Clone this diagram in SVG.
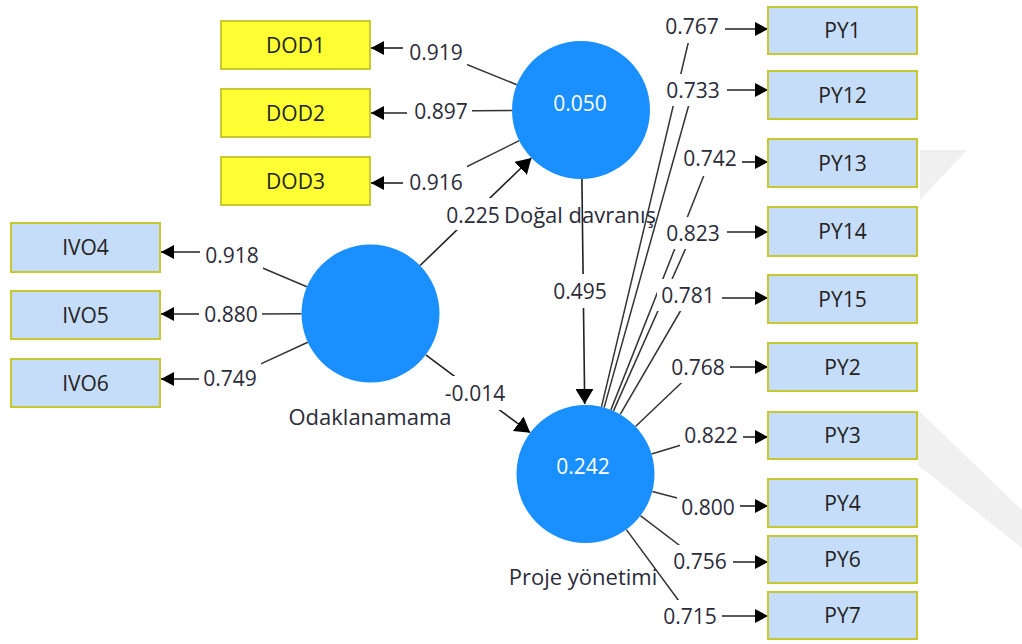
<svg xmlns="http://www.w3.org/2000/svg" width="1022" height="644" viewBox="0 0 1022 644">
<defs>
<style>
.bgw{fill:#ffffff}
.ln{stroke:#333333;stroke-width:1.5;fill:none}
.la{stroke:#222222;stroke-width:1.6;fill:none;marker-end:url(#ah)}
.sa{stroke:#222222;stroke-width:1.6;fill:none;marker-end:url(#ahs)}
.lv{fill:#1a8fff}
.yb{fill:#ffff33;stroke:#c8c832;stroke-width:2}
.bb{fill:#c6ddf9;stroke:#c8c832;stroke-width:2}
.num{font-family:"Open Sans","Noto Sans",sans-serif;font-size:21px;fill:#2b2b3a;text-anchor:middle}
.bt{font-family:"Open Sans","Noto Sans",sans-serif;font-size:21px;fill:#222222;text-anchor:middle}
.ct{font-family:"Open Sans","Noto Sans",sans-serif;font-size:21px;fill:#ffffff;text-anchor:middle}
.nm{font-family:"Open Sans","Noto Sans",sans-serif;font-size:22px;fill:#2b2b3a;text-anchor:middle}
.wm{fill:#f0f0f0}
</style>
<marker id="ah" markerUnits="userSpaceOnUse" markerWidth="13" markerHeight="14" refX="13" refY="7" orient="auto"><path d="M0,0 L13,7 L0,14 z" fill="#000"/></marker>
<marker id="ahs" markerUnits="userSpaceOnUse" markerWidth="15" markerHeight="18" refX="15" refY="9" orient="auto"><path d="M0,0 L15,9 L0,18 z" fill="#000"/></marker>
</defs>
<rect x="0" y="0" width="1022" height="644" fill="#ffffff"/>
<g id="watermark">
<polygon class="wm" points="920,150 967,150 920,200"/>
<polygon class="wm" points="918,410 1022,510 1022,548 918,465"/>
</g>
<g id="connectors">
<!-- loading lines (circle to label) -->
<line class="ln" x1="516.8" y1="84.7" x2="436" y2="52"/>
<line class="ln" x1="512" y1="110.5" x2="441" y2="111"/>
<line class="ln" x1="519.2" y1="140.7" x2="436" y2="182"/>
<line class="ln" x1="306.9" y1="286.7" x2="232" y2="255"/>
<line class="ln" x1="301.5" y1="313.7" x2="231" y2="314"/>
<line class="ln" x1="307.8" y1="342.3" x2="230" y2="378"/>
<line class="ln" x1="601.5" y1="406.9" x2="692" y2="27"/>
<line class="ln" x1="604.1" y1="407.6" x2="693" y2="90"/>
<line class="ln" x1="610.9" y1="409.9" x2="710" y2="160"/>
<line class="ln" x1="613.5" y1="410.9" x2="693" y2="232"/>
<line class="ln" x1="620.2" y1="414.4" x2="688" y2="298"/>
<line class="ln" x1="635.5" y1="426.5" x2="698" y2="367"/>
<line class="ln" x1="651.5" y1="454" x2="711" y2="436"/>
<line class="ln" x1="652.3" y1="491.4" x2="708" y2="506"/>
<line class="ln" x1="640.4" y1="515.7" x2="700" y2="561"/>
<line class="ln" x1="626.4" y1="529.6" x2="690" y2="616"/>
<!-- structural paths -->
<line class="sa" x1="420.1" y1="265.5" x2="531.4" y2="158"/>
<line class="sa" x1="581.9" y1="179" x2="584.7" y2="404"/>
<line class="sa" x1="425.8" y1="354.8" x2="530.2" y2="432.7"/>
<!-- label backgrounds -->
<rect class="bgw" x="405" y="36" width="62" height="32"/>
<rect class="bgw" x="410" y="95" width="62" height="32"/>
<rect class="bgw" x="405" y="166" width="62" height="32"/>
<rect class="bgw" x="201" y="239" width="62" height="32"/>
<rect class="bgw" x="200" y="298" width="62" height="32"/>
<rect class="bgw" x="199" y="362" width="62" height="32"/>
<rect class="bgw" x="442" y="198" width="62" height="32"/>
<rect class="bgw" x="549" y="274" width="62" height="34"/>
<rect class="bgw" x="441" y="376" width="68" height="34"/>
<rect class="bgw" x="661" y="11" width="62" height="32"/>
<rect class="bgw" x="662" y="74" width="62" height="32"/>
<rect class="bgw" x="679" y="144" width="62" height="32"/>
<rect class="bgw" x="662" y="217" width="62" height="32"/>
<rect class="bgw" x="657" y="279" width="62" height="32"/>
<rect class="bgw" x="667" y="351" width="62" height="32"/>
<rect class="bgw" x="680" y="419" width="62" height="32"/>
<rect class="bgw" x="677" y="491" width="62" height="32"/>
<rect class="bgw" x="669" y="545" width="62" height="32"/>
<rect class="bgw" x="659" y="600" width="62" height="32"/>
<!-- label to indicator arrows -->
<line class="la" x1="403" y1="48" x2="371" y2="48"/>
<line class="la" x1="407" y1="113" x2="371" y2="113"/>
<line class="la" x1="403" y1="183" x2="371" y2="183"/>
<line class="la" x1="200" y1="252" x2="161" y2="252"/>
<line class="la" x1="199" y1="314" x2="161" y2="314"/>
<line class="la" x1="199" y1="379" x2="161" y2="379"/>
<line class="la" x1="725" y1="29" x2="768" y2="29"/>
<line class="la" x1="727" y1="90" x2="768" y2="90"/>
<line class="la" x1="742" y1="162" x2="768" y2="162"/>
<line class="la" x1="727" y1="232" x2="768" y2="232"/>
<line class="la" x1="722" y1="298" x2="768" y2="298"/>
<line class="la" x1="730" y1="367" x2="768" y2="367"/>
<line class="la" x1="743" y1="437" x2="768" y2="437"/>
<line class="la" x1="740" y1="506" x2="768" y2="506"/>
<line class="la" x1="733" y1="562" x2="768" y2="562"/>
<line class="la" x1="722" y1="616" x2="768" y2="616"/>
<!-- labels -->
<text class="num" x="436" y="59.5">0.919</text>
<text class="num" x="441" y="118.5">0.897</text>
<text class="num" x="436" y="189.5">0.916</text>
<text class="num" x="232" y="262.5">0.918</text>
<text class="num" x="231" y="321.5">0.880</text>
<text class="num" x="230" y="385.5">0.749</text>
<text class="num" x="473" y="222.5">0.225</text>
<text class="num" x="580" y="299">0.495</text>
<text class="num" x="475" y="401">-0.014</text>
<text class="num" x="692" y="34">0.767</text>
<text class="num" x="693" y="97.5">0.733</text>
<text class="num" x="710" y="166">0.742</text>
<text class="num" x="693" y="241">0.823</text>
<text class="num" x="688" y="302.5">0.781</text>
<text class="num" x="698" y="375">0.768</text>
<text class="num" x="711" y="442.5">0.822</text>
<text class="num" x="708" y="514.5">0.800</text>
<text class="num" x="700" y="569">0.756</text>
<text class="num" x="690" y="623.5">0.715</text>
</g>
<g id="DOD1"><rect class="yb" x="221" y="21" width="149" height="48"/><text class="bt" x="295.5" y="53">DOD1</text></g>
<g id="DOD2"><rect class="yb" x="221" y="89" width="149" height="48"/><text class="bt" x="295.5" y="121">DOD2</text></g>
<g id="DOD3"><rect class="yb" x="221" y="157" width="149" height="48"/><text class="bt" x="295.5" y="189">DOD3</text></g>
<g id="IVO4"><rect class="bb" x="11" y="223" width="149" height="49"/><text class="bt" x="85.5" y="255">IVO4</text></g>
<g id="IVO5"><rect class="bb" x="11" y="291" width="149" height="48"/><text class="bt" x="85.5" y="323">IVO5</text></g>
<g id="IVO6"><rect class="bb" x="11" y="359" width="149" height="48"/><text class="bt" x="85.5" y="391">IVO6</text></g>
<g id="PY1"><rect class="bb" x="768" y="7" width="149" height="47"/><text class="bt" x="842.5" y="38">PY1</text></g>
<g id="PY12"><rect class="bb" x="768" y="71" width="149" height="48"/><text class="bt" x="842.5" y="103">PY12</text></g>
<g id="PY13"><rect class="bb" x="768" y="139" width="149" height="48"/><text class="bt" x="842.5" y="171">PY13</text></g>
<g id="PY14"><rect class="bb" x="768" y="207" width="149" height="49"/><text class="bt" x="842.5" y="239">PY14</text></g>
<g id="PY15"><rect class="bb" x="768" y="275" width="149" height="48"/><text class="bt" x="842.5" y="307">PY15</text></g>
<g id="PY2"><rect class="bb" x="768" y="343" width="149" height="48"/><text class="bt" x="842.5" y="375">PY2</text></g>
<g id="PY3"><rect class="bb" x="768" y="412" width="149" height="47"/><text class="bt" x="842.5" y="443">PY3</text></g>
<g id="PY4"><rect class="bb" x="768" y="479" width="149" height="48"/><text class="bt" x="842.5" y="511">PY4</text></g>
<g id="PY6"><rect class="bb" x="768" y="536" width="149" height="47"/><text class="bt" x="842.5" y="567">PY6</text></g>
<g id="PY7"><rect class="bb" x="768" y="592" width="149" height="47"/><text class="bt" x="842.5" y="623">PY7</text></g>
<g id="Dogal_davranis"><circle class="lv" cx="581" cy="110" r="69"/><text class="ct" x="580" y="111">0.050</text><text class="nm" x="580" y="223">Doğal davranış</text></g>
<g id="Odaklanamama"><circle class="lv" cx="370.5" cy="313.5" r="69"/><text class="nm" x="370" y="425">Odaklanamama</text></g>
<g id="Proje_yonetimi"><circle class="lv" cx="585.5" cy="474" r="69"/><text class="ct" x="583" y="473.5">0.242</text><text class="nm" x="583" y="585">Proje yönetimi</text></g>
</svg>
